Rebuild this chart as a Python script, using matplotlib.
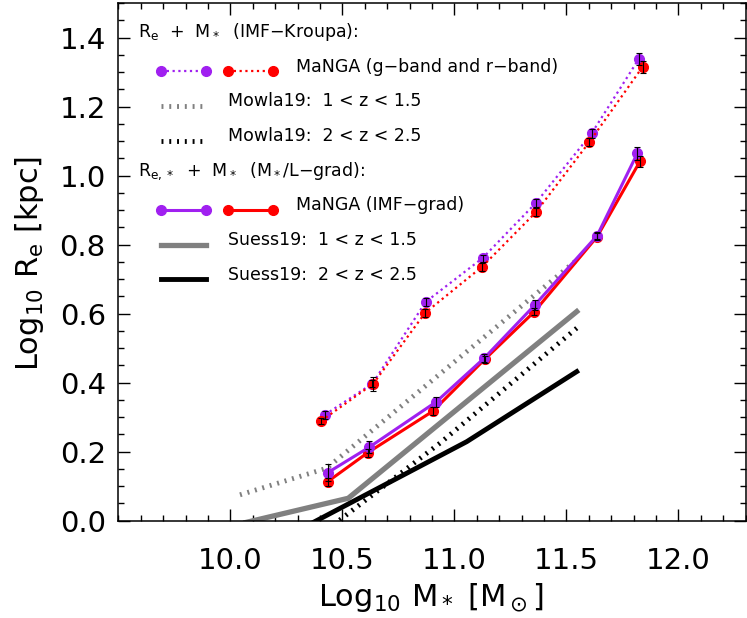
import numpy as np
import matplotlib as mpl
import matplotlib.pyplot as plt

mpl.rcParams['font.family'] = 'DejaVu Sans'
mpl.rcParams['mathtext.default'] = 'regular'

purple = '#A020F0'
red = '#FF0000'
grey = '#808080'

# MaNGA, Re + M* (IMF-Kroupa), g-band and r-band
mass_g = [10.422, 10.634, 10.872, 11.126, 11.364, 11.612, 11.822]
re_g = [0.307, 0.397, 0.634, 0.761, 0.921, 1.122, 1.337]
err_g = [0.012, 0.010, 0.012, 0.010, 0.012, 0.012, 0.018]

mass_r = [10.405, 10.638, 10.869, 11.124, 11.364, 11.602, 11.840]
re_r = [0.289, 0.397, 0.602, 0.736, 0.894, 1.097, 1.315]
err_r = [0.010, 0.020, 0.012, 0.012, 0.012, 0.012, 0.018]

# MaNGA, Re,* + M* (M*/L-grad), IMF-grad
mass_gg = [10.434, 10.620, 10.918, 11.133, 11.359, 11.637, 11.816]
re_gg = [0.139, 0.213, 0.344, 0.471, 0.625, 0.826, 1.064]
err_gg = [0.025, 0.018, 0.015, 0.012, 0.015, 0.010, 0.020]

mass_rg = [10.434, 10.613, 10.903, 11.136, 11.356, 11.637, 11.828]
re_rg = [0.113, 0.197, 0.317, 0.468, 0.605, 0.823, 1.041]
err_rg = [0.012, 0.012, 0.012, 0.010, 0.010, 0.010, 0.015]

# literature relations
mowla_lo_m = [10.043, 10.430, 11.538]
mowla_lo_r = [0.075, 0.152, 0.751]
mowla_hi_m = [10.46, 10.936, 11.546]
mowla_hi_r = [-0.012, 0.225, 0.558]
suess_lo_m = [10.07, 10.526, 11.546]
suess_lo_r = [-0.005, 0.065, 0.606]
suess_hi_m = [10.37, 11.055, 11.546]
suess_hi_r = [-0.005, 0.229, 0.432]

fig = plt.figure(figsize=(7.47, 6.18), dpi=100)
ax = fig.add_axes([118.3 / 747, 1 - 520.7 / 618, 627.4 / 747, 517.7 / 618])

dot_manga = (0, (1, 1.6))
dot_mowla = (0, (0.4, 1.2))

ax.plot(mowla_lo_m, mowla_lo_r, color=grey, lw=3.5, ls=dot_mowla, zorder=2)
ax.plot(mowla_hi_m, mowla_hi_r, color='black', lw=3.5, ls=dot_mowla, zorder=2)
ax.plot(suess_lo_m, suess_lo_r, color=grey, lw=3.8, zorder=2)
ax.plot(suess_hi_m, suess_hi_r, color='black', lw=3.5, zorder=2)

ms = 7
ax.plot(mass_g, re_g, color=purple, lw=1.6, ls=dot_manga, marker='o', ms=ms, zorder=3)
ax.plot(mass_r, re_r, color=red, lw=1.6, ls=dot_manga, marker='o', ms=ms, zorder=3)
ax.plot(mass_gg, re_gg, color=purple, lw=2.2, marker='o', ms=ms, zorder=4)
ax.plot(mass_rg, re_rg, color=red, lw=2.2, marker='o', ms=ms, zorder=3)

for m, r, e in [(mass_g, re_g, err_g), (mass_r, re_r, err_r),
                (mass_gg, re_gg, err_gg), (mass_rg, re_rg, err_rg)]:
    ax.errorbar(m, r, yerr=e, fmt='none', ecolor='black', elinewidth=0.8,
                capsize=2.5, capthick=0.8, zorder=5)

ax.set_xlim(9.5, 12.3)
ax.set_ylim(0.0, 1.5)
ax.set_xticks([10.0, 10.5, 11.0, 11.5, 12.0])
ax.set_xticklabels(['10.0', '10.5', '11.0', '11.5', '12.0'])
ax.set_yticks(np.arange(0, 1.41, 0.2))
ax.set_yticklabels(['%.1f' % v for v in np.arange(0, 1.41, 0.2)])
ax.xaxis.set_minor_locator(mpl.ticker.MultipleLocator(0.1))
ax.yaxis.set_minor_locator(mpl.ticker.MultipleLocator(0.05))
ax.tick_params(which='both', direction='in', top=True, right=True, width=1.0)
ax.tick_params(which='major', length=8.5)
ax.tick_params(which='minor', length=4.2)
ax.tick_params(axis='x', labelsize=21, pad=19)
ax.tick_params(axis='y', labelsize=21, pad=9)
for s in ax.spines.values():
    s.set_linewidth(1.1)

fig.text(431 / 747, 1 - 598 / 618, r'Log$_{10}$ M$_*$ [M$_\odot$]', fontsize=22,
         ha='center', va='center')
fig.text(30 / 747, 1 - 263 / 618, r'Log$_{10}$ R$_e$ [kpc]', fontsize=22,
         ha='center', va='center', rotation=90)


# legend drawn by hand, pixel positions converted to axes fraction
def fx(px):
    return (px - 118.3) / 627.4


def fy(py):
    return (520.7 - py) / 517.7


tr = ax.transAxes
fs = 12.5


def sample(x0, x1, y, **kw):
    ax.plot([fx(x0), fx(x1)], [fy(y), fy(y)], transform=tr, clip_on=False, **kw)


ax.text(fx(138), fy(37.3), r'R$_e$  +  M$_*$  (IMF−Kroupa):', transform=tr, fontsize=fs,
        va='baseline')
sample(161, 206, 71, color=purple, lw=1.6, ls=dot_manga, marker='o', ms=ms)
sample(228, 273, 71, color=red, lw=1.6, ls=dot_manga, marker='o', ms=ms)
ax.text(fx(296), fy(71.5), 'MaNGA (g−band and r−band)', transform=tr, fontsize=fs,
        va='baseline')
sample(161, 206, 106, color=grey, lw=3.5, ls=dot_mowla)
ax.text(fx(228), fy(106), 'Mowla19:  1 < z < 1.5', transform=tr, fontsize=fs, va='baseline')
sample(161, 206, 140.5, color='black', lw=3.5, ls=dot_mowla)
ax.text(fx(228), fy(141), 'Mowla19:  2 < z < 2.5', transform=tr, fontsize=fs, va='baseline')

ax.text(fx(138), fy(176), r'R$_{e,*}$  +  M$_*$  (M$_*$/L−grad):', transform=tr, fontsize=fs,
        va='baseline')
sample(161, 206, 210, color=purple, lw=2.2, marker='o', ms=ms)
sample(228, 273, 210, color=red, lw=2.2, marker='o', ms=ms)
ax.text(fx(296), fy(210.5), 'MaNGA (IMF−grad)', transform=tr, fontsize=fs, va='baseline')
sample(161, 206, 244.5, color=grey, lw=3.8)
ax.text(fx(228), fy(245), 'Suess19:  1 < z < 1.5', transform=tr, fontsize=fs, va='baseline')
sample(161, 206, 279, color='black', lw=3.5)
ax.text(fx(228), fy(279.5), 'Suess19:  2 < z < 2.5', transform=tr, fontsize=fs, va='baseline')

fig.savefig('out.png', dpi=100)
